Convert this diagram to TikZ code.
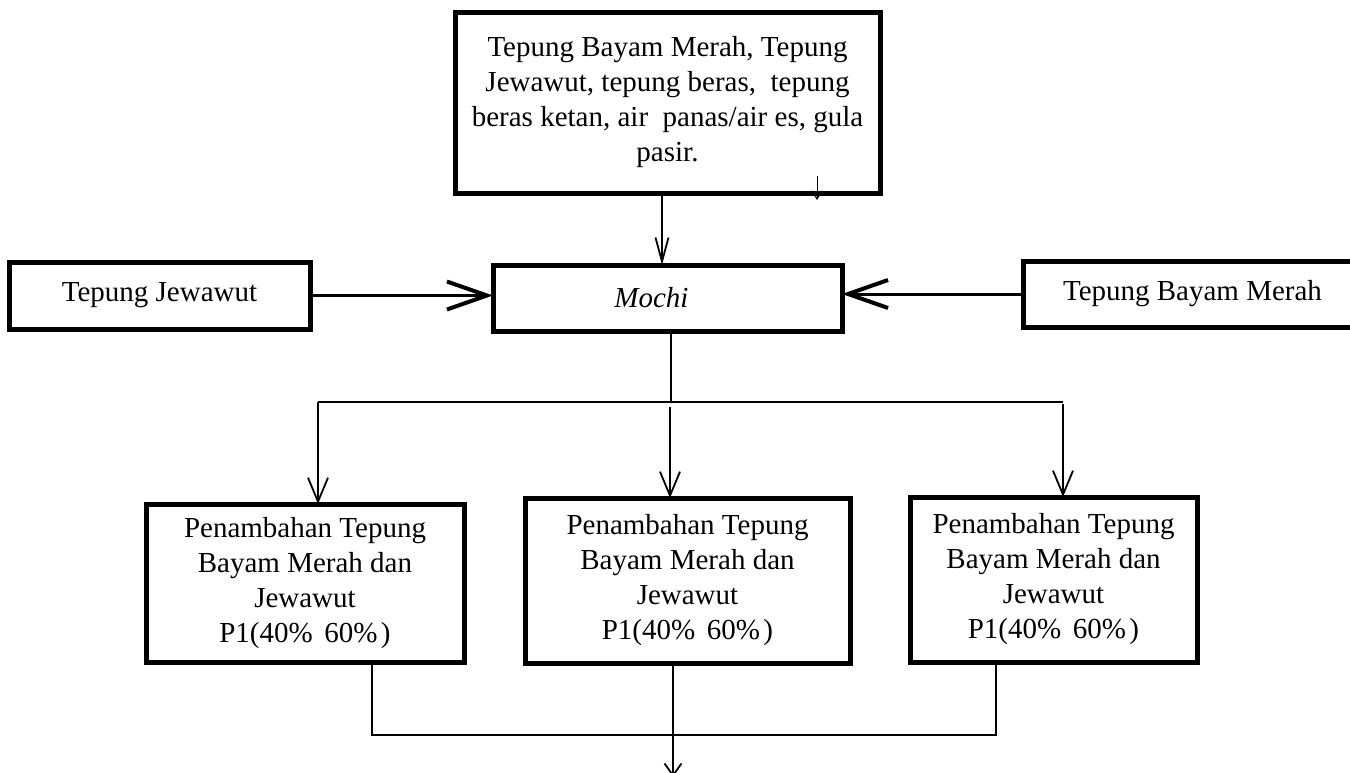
\documentclass[tikz,border=0pt]{standalone}
\usepackage{fontspec}
\setmainfont{Liberation Serif}
\usetikzlibrary{arrows.meta,calc}
\begin{document}
\begin{tikzpicture}[x=1pt,y=-1pt,
  box/.style={draw, line width=5pt, rectangle, inner sep=0pt, outer sep=0pt, align=center, font=\fontsize{29}{35}\selectfont},
  thinline/.style={line width=1.5pt},
  bigarr/.style={line width=3pt, -{Straight Barb[length=40pt,width=28pt,line width=4pt]}},
  midarr/.style={line width=1.5pt, -{Straight Barb[length=24pt,width=20pt,line width=1.8pt]}},
  toparr/.style={line width=1.5pt, -{Straight Barb[length=24pt,width=13pt,line width=1.8pt]}},
  endarr/.style={line width=1.5pt, -{Straight Barb[length=12pt,width=17pt,line width=1.8pt]}},
  tinyarr/.style={line width=1pt, -{Straight Barb[length=8pt,width=10pt,line width=1.2pt]}}
]
\useasboundingbox (0,0) rectangle (1350,772);
\clip (0,0) rectangle (1350,772);

\node[box, minimum width=425pt, minimum height=181pt] (top) at (667.5,102.5)
  {Tepung Bayam Merah, Tepung\\Jewawut, tepung beras,\ \ tepung\\beras ketan, air\ \ panas/air es, gula\\pasir.};
\node[box, minimum width=301pt, minimum height=67pt] (jew) at (159.5,295.5) {Tepung Jewawut};
\node[box, minimum width=349pt, minimum height=66pt] (mochi) at (667.5,298) {\hspace*{-32pt}\textit{Mochi}};
\node[box, minimum width=339pt, minimum height=66pt] (bayam) at (1192.5,294) {Tepung Bayam Merah};

\node[box, minimum width=318pt, minimum height=158pt] (p1) at (305,583)
  {Penambahan Tepung\\Bayam Merah dan\\Jewawut\\P1(40\%\hspace{0.4em}60\%\hspace{0.12em})};
\node[box, minimum width=325pt, minimum height=165pt] (p2) at (687.5,580.5)
  {Penambahan Tepung\\Bayam Merah dan\\Jewawut\\P1(40\%\hspace{0.4em}60\%\hspace{0.12em})};
\node[box, minimum width=287pt, minimum height=165pt] (p3) at (1053.5,579.5)
  {Penambahan Tepung\\Bayam Merah dan\\Jewawut\\P1(40\%\hspace{0.4em}60\%\hspace{0.12em})};

% top box to Mochi
\coordinate (c662) at (662,0);
\draw[toparr] (top.south -| c662) -- (mochi.north -| c662);
\coordinate (s1) at (817,176);
\coordinate (s2) at (817,200);
\draw[tinyarr] (s1) -- (s2);

% side inputs
\draw[bigarr] (jew.east) -- (jew.east -| mochi.west);
\draw[bigarr] (bayam.west) -- (bayam.west -| mochi.east);

% branching
\coordinate (j) at (671,402);
\coordinate (hl) at (318,402);
\coordinate (hr) at (1063,402);
\draw[thinline] (mochi.south -| j) -- (j);
\draw[thinline] (hl) -- (hr);
\draw[midarr] (hl) -- (p1.north -| hl);
\coordinate (m1) at (670,407);
\draw[midarr] (m1) -- (p2.north -| m1);
\coordinate (r1) at (1063,404);
\draw[midarr] (r1) -- (p3.north -| r1);

% merge
\coordinate (b1) at (372,735);
\coordinate (b3) at (996,735);
\coordinate (bm) at (673,735);
\coordinate (endp) at (673,777);
\draw[thinline] (p1.south -| b1) -- (b1) -- (b3) -- (p3.south -| b3);
\draw[endarr] (p2.south -| bm) -- (endp);
\end{tikzpicture}
\end{document}
